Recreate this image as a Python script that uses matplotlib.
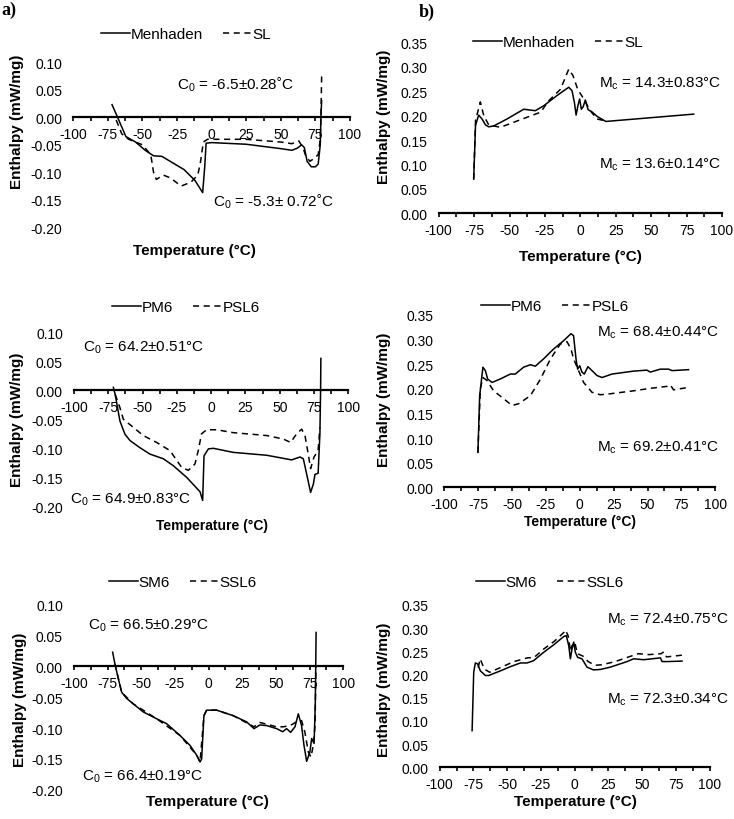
import matplotlib.pyplot as plt
from matplotlib.ticker import MultipleLocator, FormatStrFormatter
from matplotlib.lines import Line2D

plt.rcParams['font.family'] = ['Liberation Sans', 'DejaVu Sans']
plt.rcParams['axes.unicode_minus'] = False
plt.rcParams['mathtext.fontset'] = 'custom'
plt.rcParams['mathtext.rm'] = 'Liberation Sans'
plt.rcParams['mathtext.it'] = 'Liberation Sans:italic'

W, H = 734, 820

# ---- a) top : Menhaden / SL (cooling)
men_c_t = [-72, -68, -62, -55, -48, -42, -36, -30, -20, -12, -6.5, -5, -4, 0, 25, 50, 58, 62, 65, 67, 69, 72, 75, 77, 78.5, 79, 79.5]
men_c_y = [0.023, 0.0, -0.035, -0.045, -0.06, -0.07, -0.071, -0.08, -0.095, -0.115, -0.137, -0.09, -0.047, -0.046, -0.049, -0.057, -0.06, -0.056, -0.05, -0.055, -0.08, -0.09, -0.09, -0.085, -0.05, 0.0, 0.03]
sl_c_t = [-69, -65, -60, -50, -44, -42, -40, -35, -30, -22, -15, -10, -8, -6, -3, 25, 50, 58, 63, 66, 68, 71, 74, 77, 78.5, 79, 79.5]
sl_c_y = [-0.005, -0.03, -0.04, -0.05, -0.068, -0.1, -0.113, -0.105, -0.11, -0.125, -0.118, -0.105, -0.08, -0.045, -0.04, -0.04, -0.045, -0.048, -0.043, -0.055, -0.07, -0.08, -0.075, -0.068, -0.04, 0.0, 0.075]

# ---- b) top : Menhaden / SL (melting)
men_m_t = [-75.3, -74, -71.8, -69.4, -67, -64.7, -61, -51.8, -40, -31.8, -25.9, -16.5, -8.2, -5.9, -4.2, -3, -1.6, -0.5, 0.7, 2, 3.5, 5.5, 8, 12, 18, 80]
men_m_y = [0.07, 0.18, 0.201, 0.193, 0.181, 0.177, 0.179, 0.193, 0.213, 0.21, 0.22, 0.241, 0.258, 0.251, 0.227, 0.201, 0.222, 0.234, 0.213, 0.218, 0.232, 0.212, 0.208, 0.198, 0.188, 0.203]
sl_m_t = [-75.3, -74, -70.6, -68.2, -64.7, -56.5, -40, -28, -22.4, -14, -8.2, -5.2, -1.9, 2.4, 7, 11.8, 16.5, 18]
sl_m_y = [0.07, 0.19, 0.228, 0.2, 0.181, 0.176, 0.194, 0.207, 0.23, 0.254, 0.295, 0.282, 0.254, 0.234, 0.21, 0.193, 0.19, 0.188]

# ---- a) middle : PM6 / PSL6 (cooling)
pm6_c_t = [-71.3, -70, -66.5, -62.8, -59, -51.9, -44.6, -34.9, -27.6, -17.9, -8.1, -6.2, -5.2, -2, 1.6, 16, 40.5, 58.7, 64.8, 67.2, 69.6, 72.5, 74.5, 75.7, 78, 79.3, 79.8, 80]
pm6_c_y = [0.005, -0.007, -0.053, -0.076, -0.087, -0.099, -0.11, -0.118, -0.13, -0.15, -0.175, -0.19, -0.113, -0.101, -0.1, -0.107, -0.112, -0.12, -0.115, -0.118, -0.144, -0.176, -0.162, -0.145, -0.143, -0.075, 0.0, 0.055]
psl6_c_t = [-70, -66.5, -64, -56.7, -49.5, -39.7, -30, -21.5, -16.6, -11.8, -9.4, -7, -3.3, 4, 16, 40.5, 52.6, 58, 62.3, 66, 68.4, 70.8, 72.5, 75, 78, 79.3]
psl6_c_y = [-0.007, -0.03, -0.05, -0.064, -0.078, -0.09, -0.104, -0.133, -0.138, -0.127, -0.104, -0.075, -0.068, -0.068, -0.073, -0.078, -0.084, -0.09, -0.075, -0.067, -0.078, -0.11, -0.135, -0.115, -0.104, -0.064]

# ---- b) middle : PM6 / PSL6 (melting)
pm6_m_t = [-75.2, -73.9, -71.5, -69.7, -68, -64.8, -58.7, -51.3, -47.6, -41.5, -36.5, -32.8, -26.7, -19.3, -11.9, -6.5, -4.6, -2.8, -1.6, -0.1, 1.6, 3.3, 6, 9, 12.7, 16.4, 23.7, 39.7, 49.6, 52, 59.4, 65.6, 68, 80.3]
pm6_m_y = [0.071, 0.186, 0.244, 0.237, 0.22, 0.213, 0.22, 0.23, 0.23, 0.244, 0.249, 0.246, 0.261, 0.281, 0.298, 0.312, 0.308, 0.261, 0.24, 0.247, 0.234, 0.23, 0.245, 0.237, 0.227, 0.223, 0.23, 0.236, 0.238, 0.234, 0.24, 0.24, 0.237, 0.239]
psl6_m_t = [-75.2, -73.4, -71.5, -68.5, -63.6, -56.2, -50, -45, -36.5, -29, -21.8, -14.4, -9.5, -6.5, -4.6, 2.8, 9, 15, 22.5, 39.7, 52, 64.3, 66.8, 69.2, 80.3]
psl6_m_y = [0.071, 0.2, 0.223, 0.217, 0.196, 0.18, 0.166, 0.17, 0.186, 0.22, 0.26, 0.291, 0.296, 0.281, 0.261, 0.213, 0.193, 0.188, 0.19, 0.196, 0.201, 0.205, 0.208, 0.198, 0.203]

# ---- a) bottom : SM6 / SSL6 (cooling)
sm6_c_t = [-71.3, -69.6, -67.1, -64.6, -60.9, -55.9, -48.5, -38.6, -31.2, -21.3, -13.9, -8.9, -6.4, -5.2, -3.5, -1.5, 5.9, 18.3, 28.2, 33.7, 38.1, 43.1, 50.5, 55, 57.9, 60.9, 64.1, 66.6, 69, 70.8, 72.8, 75.2, 76.5, 78.3, 79.2, 79.8]
sm6_c_y = [0.023, 0.004, -0.02, -0.042, -0.052, -0.061, -0.074, -0.085, -0.093, -0.112, -0.128, -0.144, -0.155, -0.15, -0.08, -0.071, -0.071, -0.08, -0.09, -0.101, -0.095, -0.096, -0.101, -0.106, -0.101, -0.107, -0.098, -0.077, -0.096, -0.128, -0.154, -0.139, -0.117, -0.125, -0.06, 0.055]
ssl6_c_t = [-69.6, -64.6, -55.9, -38.6, -21.3, -8.9, -6.4, -3.5, -1.5, 5.9, 18.3, 33.7, 38.1, 50.5, 55.4, 60.4, 65.3, 69, 71.5, 74, 76, 77.7, 79, 79.7]
ssl6_c_y = [0.004, -0.042, -0.061, -0.085, -0.112, -0.144, -0.155, -0.08, -0.071, -0.071, -0.08, -0.098, -0.091, -0.098, -0.098, -0.096, -0.09, -0.088, -0.107, -0.139, -0.147, -0.128, -0.096, 0.0]

# ---- b) bottom : SM6 / SSL6 (melting)
sm6_m_t = [-76, -74.8, -73.6, -71.9, -69.9, -66.2, -63.7, -55, -47.7, -40.2, -35.3, -30.4, -23, -15.6, -8.1, -6.2, -4.4, -3.2, -2, -0.7, 0.5, 2.2, 5.4, 9.1, 14, 19, 26.4, 38.8, 43.7, 51.1, 63.5, 64.7, 68.4, 79.5]
sm6_m_y = [0.079, 0.205, 0.225, 0.223, 0.208, 0.198, 0.198, 0.208, 0.217, 0.225, 0.225, 0.23, 0.248, 0.264, 0.282, 0.284, 0.262, 0.234, 0.255, 0.27, 0.248, 0.237, 0.234, 0.216, 0.21, 0.211, 0.216, 0.228, 0.234, 0.232, 0.236, 0.228, 0.228, 0.229]
ssl6_m_t = [-71.5, -70, -67, -63, -55, -45, -35, -30, -23, -15, -8, -7, -5, -3, -2, 0, 2, 6, 10, 15, 20, 30, 40, 47, 55, 64, 66, 68, 80]
ssl6_m_y = [0.215, 0.234, 0.212, 0.205, 0.215, 0.228, 0.236, 0.237, 0.255, 0.272, 0.291, 0.296, 0.285, 0.25, 0.262, 0.27, 0.245, 0.24, 0.228, 0.22, 0.221, 0.228, 0.238, 0.245, 0.243, 0.245, 0.249, 0.238, 0.242]

fig = plt.figure(figsize=(W / 100, H / 100), dpi=100)


def fx(x):
    return x / W


def fy(y):
    return 1 - y / H


panels = [
    # box (left, right, top, bottom px), ylim, series, legend labels, legend centre, notes, xlabel pos, ylabel pos, label size
    dict(box=(73.3, 350, 63.3, 228.3), ylim=(-0.20, 0.10),
         solid=(men_c_t, men_c_y), dash=(sl_c_t, sl_c_y), names=('Menhaden', 'SL'), leg=(186, 35),
         notes=[(177, 85, r'C$_0$ = -6.5±0.28˚C'), (213, 202, r'C$_0$ = -5.3± 0.72˚C')],
         xl=(194, 251), yl=(17, 122), lab=11),
    dict(box=(438.7, 722, 43.3, 214.3), ylim=(0, 0.35),
         solid=(men_m_t, men_m_y), dash=(sl_m_t, sl_m_y), names=('Menhaden', 'SL'), leg=(558, 43),
         notes=[(599, 84, r'M$_\mathrm{c}$ = 14.3±0.83°C'), (599, 165, r'M$_\mathrm{c}$ = 13.6±0.14°C')],
         xl=(580, 257), yl=(384, 117), lab=11),
    dict(box=(74, 348.3, 333.3, 507.3), ylim=(-0.20, 0.10),
         solid=(pm6_c_t, pm6_c_y), dash=(psl6_c_t, psl6_c_y), names=('PM6', 'PSL6'), leg=(186, 308),
         notes=[(83, 348, r'C$_0$ = 64.2±0.51°C'), (70, 500, r'C$_0$ = 64.9±0.83°C')],
         xl=(212, 526), yl=(17, 420), lab=10),
    dict(box=(444.3, 715.3, 316, 488.3), ylim=(0, 0.35),
         solid=(pm6_m_t, pm6_m_y), dash=(psl6_m_t, psl6_m_y), names=('PM6', 'PSL6'), leg=(555, 307),
         notes=[(597, 333, r'M$_\mathrm{c}$ = 68.4±0.44°C'), (597, 448, r'M$_\mathrm{c}$ = 69.2±0.41°C')],
         xl=(580, 522), yl=(384, 400), lab=10),
    dict(box=(74, 343.3, 605.7, 790.7), ylim=(-0.20, 0.10),
         solid=(sm6_c_t, sm6_c_y), dash=(ssl6_c_t, ssl6_c_y), names=('SM6', 'SSL6'), leg=(183, 583),
         notes=[(88, 626, r'C$_0$ = 66.5±0.29°C'), (82, 777, r'C$_0$ = 66.4±0.19°C')],
         xl=(207, 802), yl=(20, 700), lab=11),
    dict(box=(439.7, 709.7, 606, 768.3), ylim=(0, 0.35),
         solid=(sm6_m_t, sm6_m_y), dash=(ssl6_m_t, ssl6_m_y), names=('SM6', 'SSL6'), leg=(550, 583),
         notes=[(607, 620, r'M$_\mathrm{c}$ = 72.4±0.75°C'), (607, 700, r'M$_\mathrm{c}$ = 72.3±0.34°C')],
         xl=(575, 802), yl=(384, 690), lab=11),
]

dash_style = (0, (4, 3))

for p in panels:
    l, r, t, b = p['box']
    ax = fig.add_axes([fx(l), fy(b), (r - l) / W, (b - t) / H])
    ax.set_xlim(-100, 100)
    ax.set_ylim(*p['ylim'])
    ax.plot(*p['solid'], color='black', lw=1.1)
    ax.plot(*p['dash'], color='black', lw=1.1, ls=dash_style)

    for s in ['left', 'right', 'top']:
        ax.spines[s].set_visible(False)
    ax.spines['bottom'].set_position(('data', 0))
    ax.spines['bottom'].set_linewidth(1.6)
    ax.xaxis.set_major_locator(MultipleLocator(25))
    ax.xaxis.set_minor_locator(MultipleLocator(12.5))
    ax.yaxis.set_major_locator(MultipleLocator(0.05))
    ax.yaxis.set_major_formatter(FormatStrFormatter('%.2f'))
    ax.tick_params(axis='x', which='both', direction='out', length=3, width=1.2, pad=4, labelsize=10)
    ax.tick_params(axis='y', length=0, pad=8, labelsize=10)
    ax.set_facecolor('none')

    ax.set_xlabel('Temperature (°C)', fontsize=p['lab'], fontweight='bold')
    ax.xaxis.set_label_coords(fx(p['xl'][0]), fy(p['xl'][1]), transform=fig.transFigure)
    ax.xaxis.label.set_va('center')
    ax.set_ylabel('Enthalpy (mW/mg)', fontsize=11, fontweight='bold')
    ax.yaxis.set_label_coords(fx(p['yl'][0]), fy(p['yl'][1]), transform=fig.transFigure)
    ax.yaxis.label.set_va('center')

    handles = [Line2D([], [], color='black', lw=1.1),
               Line2D([], [], color='black', lw=1.1, ls=dash_style)]
    ax.legend(handles, p['names'], loc='center', ncol=2, frameon=False, fontsize=11,
              bbox_to_anchor=(fx(p['leg'][0]), fy(p['leg'][1])), bbox_transform=fig.transFigure,
              handlelength=1.9, handletextpad=0.05, columnspacing=1.3, borderpad=0)

    for x, y, s in p['notes']:
        fig.text(fx(x), fy(y), s, ha='left', va='center', fontsize=11)

fig.text(fx(1), fy(10), 'a)', family='Liberation Serif', fontweight='bold', fontsize=13, va='center')
fig.text(fx(419), fy(12), 'b)', family='Liberation Serif', fontweight='bold', fontsize=13, va='center')

fig.savefig('out.png', dpi=100)
